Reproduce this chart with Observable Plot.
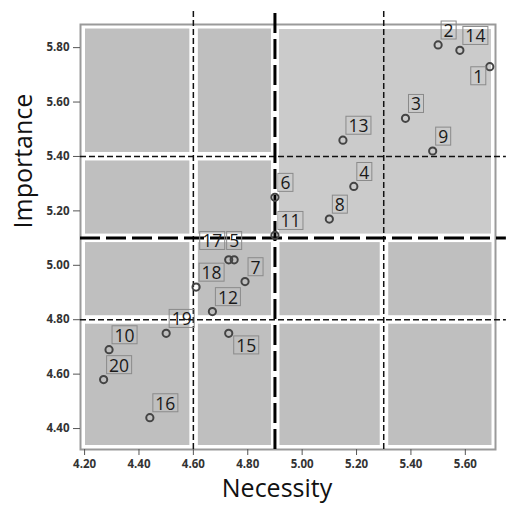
<!DOCTYPE html>
<html><head><meta charset="utf-8">
<script src="https://cdn.jsdelivr.net/npm/d3@7"></script>
<script src="https://cdn.jsdelivr.net/npm/@observablehq/plot@0.6"></script>
<style>
body{margin:0;background:#fff;}
svg{font-family:"Open Sans",sans-serif;}
</style></head><body><div id="chart"></div>
<script>
// ---- data ----
const ids        = [1, 2, 3, 4, 5, 6, 7, 8, 9, 10, 11, 12, 13, 14, 15, 16, 17, 18, 19, 20];
const necessity  = [5.69, 5.50, 5.38, 5.19, 4.75, 4.90, 4.79, 5.10, 5.48, 4.29, 4.90, 4.67, 5.15, 5.58, 4.73, 4.44, 4.73, 4.61, 4.50, 4.27];
const importance = [5.73, 5.81, 5.54, 5.29, 5.02, 5.25, 4.94, 5.17, 5.42, 4.69, 5.11, 4.83, 5.46, 5.79, 4.75, 4.44, 5.02, 4.92, 4.75, 4.58];
const labelSide  = ["sw","ne","ne","ne","n","ne","ne","ne","ne","ne","ne","ne","ne","ne","se","ne","nw","ne","ne","ne"];
const xTicks = [4.2, 4.4, 4.6, 4.8, 5.0, 5.2, 5.4, 5.6];
const yTicks = [4.4, 4.6, 4.8, 5.0, 5.2, 5.4, 5.6, 5.8];
const xDomain = [4.185, 5.711];
const yDomain = [4.323, 5.885];
const xMainCut = [4.9];        // thick dashed
const xMinorCuts = [4.6, 5.3]; // thin dashed
const yMainCut = [5.1];
const yMinorCuts = [4.8, 5.4];
const xTitle = "Necessity";
const yTitle = "Importance";

// ---- derived tables ----
const pts = ids.map((id, i) => ({id: String(id), x: necessity[i], y: importance[i], side: labelSide[i]}));
const xb = [xDomain[0], ...[...xMainCut, ...xMinorCuts].sort(), xDomain[1]];
const yb = [yDomain[0], ...[...yMainCut, ...yMinorCuts].sort(), yDomain[1]];
const cells = [];
for (let i = 0; i < xb.length - 1; i++) for (let j = 0; j < yb.length - 1; j++) {
  if (xb[i] >= xMainCut[0] && yb[j] >= yMainCut[0]) continue;
  cells.push({x1: xb[i], x2: xb[i+1], y1: yb[j], y2: yb[j+1]});
}
const quad = [{x1: xMainCut[0], x2: xDomain[1], y1: yMainCut[0], y2: yDomain[1]}];
const yTop = 5.936, xRight = 5.751;

const LABEL_SIZE = 17.5;
const lblCommon = {x: "x", y: "y", text: "id", fontSize: LABEL_SIZE, fill: "#1a1a1a", lineAnchor: "middle"};

const plot = Plot.plot({
  width: 506, height: 505,
  marginLeft: 80, marginRight: 11, marginTop: 24, marginBottom: 56,
  x: {domain: xDomain},
  y: {domain: yDomain},
  marks: [
    Plot.rect(cells, {x1: "x1", x2: "x2", y1: "y1", y2: "y2", fill: "#bfbfbf", insetLeft: 5, insetRight: 3.5, insetTop: 4.5, insetBottom: 4}),
    Plot.rect(quad, {x1: "x1", x2: "x2", y1: "y1", y2: "y2", fill: "#cbcbcb", insetLeft: 4.5, insetRight: 4, insetTop: 5, insetBottom: 4}),
    Plot.frame({stroke: "#9a9a9a", strokeWidth: 2}),
    Plot.axisX({ticks: xTicks, tickFormat: d => d.toFixed(2), tickSize: 6, tickPadding: 4, label: null, fontSize: 11.5, fontWeight: 700, fill: "#333", stroke: "#555"}),
    Plot.axisY({ticks: yTicks, tickFormat: d => d.toFixed(2), tickSize: 7, tickPadding: 4, label: null, fontSize: 11.5, fontWeight: 700, fill: "#333", stroke: "#555"}),
    Plot.ruleX(xMinorCuts, {x: d => d, y1: yDomain[0], y2: yTop, stroke: "#111", strokeWidth: 1.5, strokeDasharray: "6,3"}),
    Plot.ruleY(yMinorCuts, {y: d => d, x1: xDomain[0], x2: xRight, stroke: "#111", strokeWidth: 1.5, strokeDasharray: "6,3"}),
    Plot.ruleX(xMainCut, {x: d => d, y1: yDomain[0], y2: yTop, stroke: "#000", strokeWidth: 3, strokeDasharray: "20,6"}),
    Plot.ruleY(yMainCut, {y: d => d, x1: xDomain[0], x2: xRight, stroke: "#000", strokeWidth: 3, strokeDasharray: "20,6"}),
    Plot.dot(pts, {x: "x", y: "y", r: 3.6, stroke: "#444", strokeWidth: 2, fill: "none"}),
    Plot.text(pts.filter(d => d.side === "ne"), {...lblCommon, textAnchor: "start", dx: 5.5, dy: -13.5}),
    Plot.text(pts.filter(d => d.side === "sw"), {...lblCommon, textAnchor: "end", dx: -6.5, dy: 10.5}),
    Plot.text(pts.filter(d => d.side === "se"), {...lblCommon, textAnchor: "start", dx: 7.5, dy: 13}),
    Plot.text(pts.filter(d => d.side === "nw"), {...lblCommon, textAnchor: "end", dx: -6.5, dy: -18}),
    Plot.text(pts.filter(d => d.side === "n"), {...lblCommon, textAnchor: "middle", dx: 0, dy: -18}),
    Plot.text([xTitle], {frameAnchor: "bottom", text: d => d, fontSize: 25, fill: "#111", dx: -11, dy: 39.5, lineAnchor: "middle"}),
    Plot.text([yTitle], {frameAnchor: "left", text: d => d, fontSize: 25, fill: "#111", rotate: -90, dx: -57, dy: -8.5, lineAnchor: "middle"})
  ]
});
document.getElementById("chart").append(plot);

// boxes around point labels
const NS = "http://www.w3.org/2000/svg";
const idSet = new Set(pts.map(d => d.id));
Array.from(plot.querySelectorAll("text")).forEach(t => {
  if (!idSet.has(t.textContent)) return;
  if (Math.abs(parseFloat(getComputedStyle(t).fontSize) - LABEL_SIZE) > 0.3) return;
  const b = t.getBBox();
  const r = document.createElementNS(NS, "rect");
  const cy = b.y + b.height / 2;
  r.setAttribute("x", b.x - 2.5);
  r.setAttribute("y", cy - 9);
  r.setAttribute("width", b.width + 5);
  r.setAttribute("height", 18);
  r.setAttribute("fill", "none");
  r.setAttribute("stroke", "#8a8a8a");
  r.setAttribute("stroke-width", 1);
  if (t.getAttribute("transform")) r.setAttribute("transform", t.getAttribute("transform"));
  t.parentNode.insertBefore(r, t);
});
</script>
</body></html>
